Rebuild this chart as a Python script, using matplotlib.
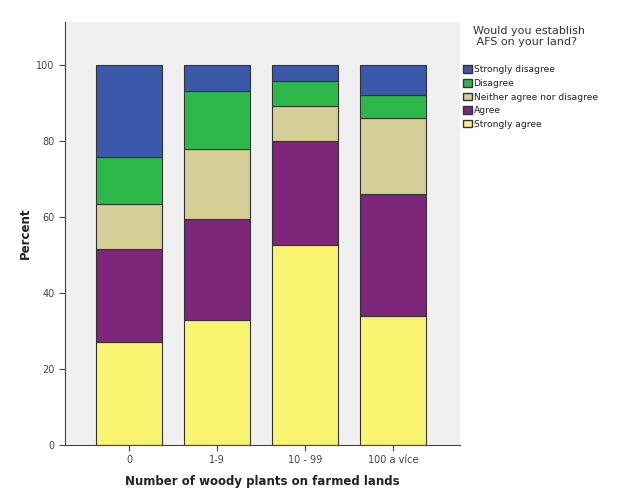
import matplotlib.pyplot as plt
from matplotlib.patches import Patch

categories = ["0", "1-9", "10 - 99", "100 a více"]
strongly_agree = [27.0, 33.0, 52.6, 33.9]
agree = [24.6, 26.5, 27.4, 32.1]
neither = [11.8, 18.4, 9.2, 20.0]
disagree = [12.4, 15.3, 6.6, 6.1]
strongly_disagree = [24.2, 6.8, 4.2, 7.9]

series = [
    ("Strongly agree", strongly_agree, "#f9f46f"),
    ("Agree", agree, "#7c2779"),
    ("Neither agree nor disagree", neither, "#d4ce97"),
    ("Disagree", disagree, "#2fb84a"),
    ("Strongly disagree", strongly_disagree, "#3b58ab"),
]

fig = plt.figure(figsize=(6.23, 4.91), dpi=100)
ax = fig.add_axes([0.104, 0.094, 0.634, 0.861])
ax.set_facecolor("#f0f0f0")

x = list(range(len(categories)))
bottom = [0.0] * len(categories)
for name, vals, color in series:
    ax.bar(x, vals, bottom=bottom, width=0.75, color=color,
           edgecolor="#333333", linewidth=0.8)
    bottom = [b + v for b, v in zip(bottom, vals)]

ax.set_xlim(-0.73, 3.76)
ax.set_ylim(0, 111.3)
ax.set_xticks(x)
ax.set_xticklabels(categories, fontsize=7, color="#444444")
ax.set_yticks([0, 20, 40, 60, 80, 100])
ax.tick_params(axis="y", labelsize=7, labelcolor="#444444", length=4, color="#444444")
ax.tick_params(axis="x", length=4, color="#444444")
for s in ["top", "right"]:
    ax.spines[s].set_visible(False)
for s in ["left", "bottom"]:
    ax.spines[s].set_color("#444444")

ax.set_xlabel("Number of woody plants on farmed lands", fontsize=8.5,
              fontweight="bold", color="#222222")
ax.set_ylabel("Percent", fontsize=8.5, fontweight="bold", color="#222222")
ax.xaxis.set_label_coords(0.5, -0.087)
ax.yaxis.set_label_coords(-0.101, 0.5)
ax.xaxis.label.set_va("center")
ax.yaxis.label.set_va("center")

handles = [Patch(facecolor=c, edgecolor="#333333", label=n) for n, v, c in reversed(series)]
leg = fig.legend(handles=handles, loc="upper left", bbox_to_anchor=(0.738, 0.955),
                 frameon=False, fontsize=6.6, title="Would you establish\n AFS on your land?",
                 title_fontsize=8, handlelength=0.9, handleheight=0.9,
                 handletextpad=0.2, labelspacing=0.5, borderaxespad=0)
leg._legend_box.align = "left"
leg._legend_box.sep = 13
leg.get_title().set_color("#333333")
leg.get_title().set_position((10, 0))
for t in leg.get_texts():
    t.set_color("#222222")

fig.savefig("out.png", dpi=100)
